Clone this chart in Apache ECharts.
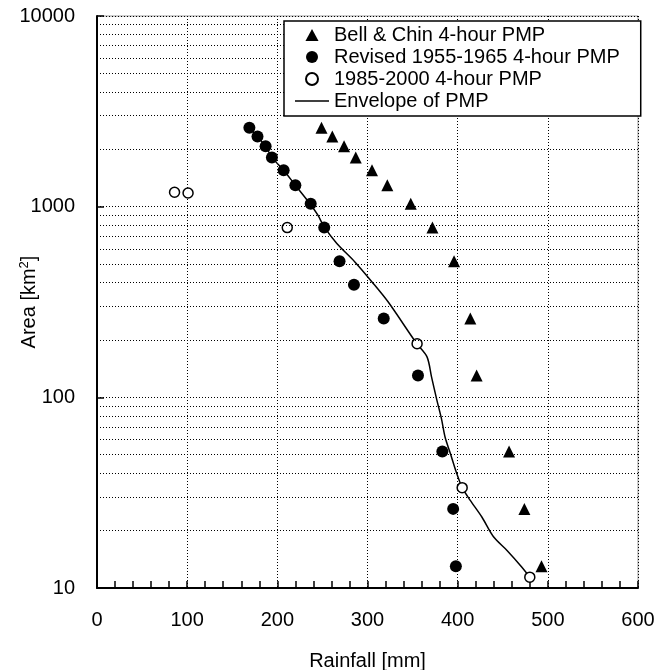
<!DOCTYPE html>
<html>
<head>
<meta charset="utf-8">
<script src="https://cdn.jsdelivr.net/npm/echarts@6/dist/echarts.min.js"></script>
<style>html,body{margin:0;padding:0;background:#fff}#c{width:667px;height:670px}</style>
</head>
<body>
<div id="c"></div>
<script>
// Bell & Chin 4-hour PMP
const bellX = [249, 261, 274, 287, 305, 322, 348, 372, 396, 414, 421, 457, 474, 493];
const bellY = [2590, 2331, 2072, 1813, 1554, 1295, 1036, 777, 518, 259, 130, 52, 26, 13];
// Revised 1955-1965 4-hour PMP
const revX = [169, 178, 187, 194, 207, 220, 237, 252, 269, 285, 318, 356, 383, 395, 398];
const revY = [2590, 2331, 2072, 1813, 1554, 1295, 1036, 777, 518, 389, 259, 130, 52, 26, 13];
// 1985-2000 4-hour PMP
const newX = [86, 101, 211, 355, 405, 480];
const newY = [1190, 1180, 777, 191, 33.6, 11.4];
// Envelope of PMP
const envX = [169, 178, 187, 194, 207, 220, 236, 245, 252, 266, 286, 305, 323, 354, 366, 371, 377, 382, 386, 392, 399, 405, 414, 427, 440, 455, 471, 480];
const envY = [2590, 2331, 2072, 1813, 1554, 1295, 1039, 902, 783, 641, 513, 403, 316, 193, 163, 128, 96.4, 77.3, 61.9, 50.6, 39.8, 33.6, 28.8, 23.5, 18.5, 15.7, 12.9, 11.4];
// axis ticks
const xTicks = [0, 100, 200, 300, 400, 500, 600];
const yMinorGrid = [20,30,40,50,60,70,80,90,200,300,400,500,600,700,800,900,2000,3000,4000,5000,6000,7000,8000,9000];
const seriesNames = ['Bell & Chin 4-hour PMP', 'Revised 1955-1965 4-hour PMP', '1985-2000 4-hour PMP', 'Envelope of PMP'];

const FONT = '"Liberation Sans", Arial, sans-serif';
const zip = (a, b) => a.map((v, i) => [v, b[i]]);
const dotted = { color: '#000', width: 1, type: [1, 2] };

const chart = echarts.init(document.getElementById('c'), null, { renderer: 'canvas' });
chart.setOption({
  animation: false,
  backgroundColor: '#fff',
  textStyle: { fontFamily: FONT, color: '#000' },
  grid: { left: 97, right: 29, top: 16, bottom: 82, containLabel: false, outerBoundsMode: 'none',
          show: true, borderColor: '#9a9a9a', borderWidth: 1, backgroundColor: 'transparent' },
  legend: {
    orient: 'vertical',
    left: 284, top: 21, z: 100,
    padding: [4, 21, 5, 11],
    itemWidth: 34, itemHeight: 12, itemGap: 2,
    symbolKeepAspect: true,
    backgroundColor: '#fff', borderColor: '#000', borderWidth: 1.5,
    textStyle: { fontSize: 20, lineHeight: 20, color: '#000', fontFamily: FONT },
    data: [
      { name: seriesNames[0], icon: 'path://M6,0 L12,11 L0,11 Z' },
      { name: seriesNames[1], icon: 'circle' },
      { name: seriesNames[2], icon: 'circle' },
      { name: seriesNames[3], icon: 'path://M0,0 L34,0 L34,1.5 L0,1.5 Z' }
    ]
  },
  xAxis: {
    type: 'value', min: xTicks[0], max: xTicks[xTicks.length - 1], interval: 100,
    name: 'Rainfall [mm]', nameLocation: 'middle', nameGap: 63, nameMoveOverlap: false,
    nameTextStyle: { fontSize: 20, color: '#000', fontFamily: FONT },
    axisLine: { show: true, onZero: false, lineStyle: { color: '#000', width: 2 } },
    axisTick: { show: true, inside: true, length: 7, lineStyle: { color: '#000', width: 1.5 } },
    minorTick: { show: true, splitNumber: 5, length: 7, lineStyle: { color: '#000', width: 1.5 } },
    axisLabel: { fontSize: 20, color: '#000', margin: 22, fontFamily: FONT },
    splitLine: { show: true, lineStyle: dotted }
  },
  yAxis: {
    type: 'log', logBase: 10, min: 10, max: 10000,
    name: '{a|Area [km}{s|2}{a|]}', nameLocation: 'middle', nameGap: 57, nameRotate: 90, nameMoveOverlap: false,
    nameTextStyle: {
      fontSize: 20, color: '#000', fontFamily: FONT,
      rich: { a: { fontSize: 20, fontFamily: FONT, color: '#000' }, s: { fontSize: 13, fontFamily: FONT, color: '#000', padding: [0, 0, 9, 0] } }
    },
    axisLine: { show: true, lineStyle: { color: '#000', width: 2 } },
    axisTick: { show: true, inside: true, length: 7, lineStyle: { color: '#000', width: 1.5 } },
    axisLabel: { fontSize: 20, color: '#000', margin: 22, fontFamily: FONT, formatter: v => String(Math.round(v)) },
    splitLine: { show: true, lineStyle: dotted }
  },
  series: [
    {
      name: seriesNames[3], type: 'line', data: zip(envX, envY), symbol: 'none', smooth: 0.3,
      lineStyle: { color: '#000', width: 1.5 }, itemStyle: { color: '#000' }, z: 2,
      markLine: {
        silent: true, symbol: 'none', label: { show: false },
        lineStyle: dotted, animation: false,
        data: yMinorGrid.map(v => ({ yAxis: v }))
      }
    },
    {
      name: seriesNames[0], type: 'scatter', data: zip(bellX, bellY), symbol: 'triangle', symbolSize: 12,
      itemStyle: { color: '#000', opacity: 1 }, z: 3
    },
    {
      name: seriesNames[1], type: 'scatter', data: zip(revX, revY), symbol: 'circle', symbolSize: 12,
      itemStyle: { color: '#000', opacity: 1 }, z: 3
    },
    {
      name: seriesNames[2], type: 'scatter', data: zip(newX, newY), symbol: 'circle', symbolSize: 10,
      itemStyle: { color: '#fff', borderColor: '#000', borderWidth: 1.5, opacity: 1 }, z: 4
    }
  ]
});
</script>
</body>
</html>
